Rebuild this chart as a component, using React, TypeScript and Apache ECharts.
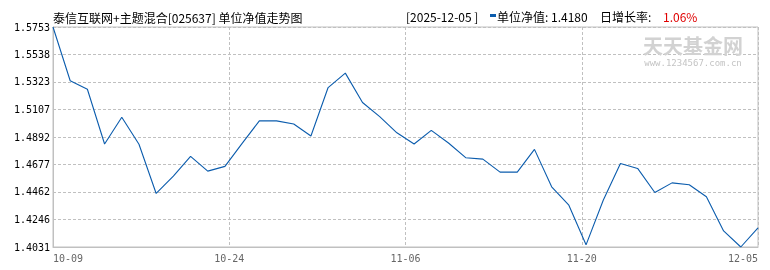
import React, { useEffect, useRef } from 'react';
import * as echarts from 'echarts';

const dates = [
  '2025-10-09', '2025-10-10', '2025-10-13', '2025-10-14', '2025-10-15', '2025-10-16', '2025-10-17',
  '2025-10-20', '2025-10-21', '2025-10-22', '2025-10-23', '2025-10-24', '2025-10-27', '2025-10-28',
  '2025-10-29', '2025-10-30', '2025-10-31', '2025-11-03', '2025-11-04', '2025-11-05', '2025-11-06',
  '2025-11-07', '2025-11-10', '2025-11-11', '2025-11-12', '2025-11-13', '2025-11-14', '2025-11-17',
  '2025-11-18', '2025-11-19', '2025-11-20', '2025-11-21', '2025-11-24', '2025-11-25', '2025-11-26',
  '2025-11-27', '2025-11-28', '2025-12-01', '2025-12-02', '2025-12-03', '2025-12-04', '2025-12-05',
];

const navValues = [
  1.5753, 1.5332, 1.5266, 1.4837, 1.5046, 1.4835, 1.4450,
  1.4586, 1.4740, 1.4625, 1.4662, 1.4842, 1.5018, 1.5018,
  1.4994, 1.4900, 1.5279, 1.5392, 1.5162, 1.5052, 1.4925,
  1.4837, 1.4944, 1.4845, 1.4730, 1.4719, 1.4617, 1.4617,
  1.4795, 1.4502, 1.4358, 1.4048, 1.4397, 1.4685, 1.4646,
  1.4458, 1.4533, 1.4518, 1.4424, 1.4157, 1.4031, 1.4180,
];

const xTickLabels = ['10-09', '10-24', '11-06', '11-20', '12-05'];
const yTickLabels = ['1.4031', '1.4246', '1.4462', '1.4677', '1.4892', '1.5107', '1.5323', '1.5538', '1.5753'];

const titleText = '泰信互联网+主题混合[025637] 单位净值走势图';
const latestDate = '[2025-12-05 ]';
const latestNav = '1.4180';
const latestGrowth = '1.06%';

const LINE_COLOR = '#0b5cad';
const GRID_COLOR = '#c0c0c0';
const CJK = '"Noto Sans CJK SC", sans-serif';
const MONO = '"DejaVu Sans Mono", monospace';

export default function App() {
  const ref = useRef<HTMLDivElement>(null);

  useEffect(() => {
    if (!ref.current) return;
    const chart = echarts.init(ref.current, null, { renderer: 'svg' });
    const yTicks = yTickLabels.map((s) => parseFloat(s));
    const yMin = Math.min(...yTicks);
    const yMax = Math.max(...yTicks);
    const xMax = dates.length - 1;
    const xInterval = xMax / (xTickLabels.length - 1);

    chart.setOption({
      animation: false,
      grid: {
        left: 53,
        right: 12,
        top: 27,
        bottom: 23,
        show: true,
        borderColor: GRID_COLOR,
        borderWidth: 1,
        backgroundColor: 'transparent',
      },
      xAxis: {
        type: 'value',
        min: 0,
        max: xMax,
        interval: xInterval,
        axisLine: { show: true, lineStyle: { color: GRID_COLOR } },
        axisTick: { show: false },
        splitLine: { show: true, lineStyle: { color: GRID_COLOR, type: [3, 2], width: 1 } },
        axisLabel: {
          color: '#666',
          fontFamily: MONO,
          fontSize: 10,
          margin: 6,
          alignMinLabel: 'left',
          alignMaxLabel: 'right',
          formatter: (v: number) => xTickLabels[Math.round(v / xInterval)] ?? '',
        },
      },
      yAxis: {
        type: 'value',
        min: yMin,
        max: yMax,
        axisLine: { show: true, lineStyle: { color: GRID_COLOR } },
        axisTick: { show: false, customValues: yTicks },
        splitLine: { show: true, lineStyle: { color: GRID_COLOR, type: [3, 2], width: 1 } },
        axisLabel: {
          customValues: yTicks,
          color: '#000',
          fontFamily: MONO,
          fontSize: 10,
          margin: 3,
          formatter: (v: number) => v.toFixed(4),
        },
      },
      series: [
        {
          type: 'line',
          data: dates.map((d, i) => [i, navValues[i]]),
          symbol: 'none',
          lineStyle: { color: LINE_COLOR, width: 1.1 },
          z: 5,
        },
      ],
      graphic: [
        {
          type: 'text',
          x: 693,
          y: 45,
          z: 1,
          style: {
            text: '天天基金网',
            font: `bold 20px ${CJK}`,
            fill: '#d2d2d2',
            align: 'center',
            verticalAlign: 'middle',
          },
        },
        {
          type: 'text',
          x: 693,
          y: 63,
          z: 1,
          style: {
            text: 'www.1234567.com.cn',
            font: `9px ${MONO}`,
            fill: '#c4c4c4',
            align: 'center',
            verticalAlign: 'middle',
          },
        },
        {
          type: 'text',
          x: 53,
          y: 17,
          style: { text: titleText, font: `12px ${CJK}`, fill: '#000', verticalAlign: 'middle' },
        },
        {
          type: 'text',
          x: 406,
          y: 16,
          style: { text: latestDate, font: `12px ${CJK}`, fill: '#000', verticalAlign: 'middle' },
        },
        {
          type: 'rect',
          shape: { x: 490, y: 14, width: 6, height: 3 },
          style: { fill: LINE_COLOR },
        },
        {
          type: 'text',
          x: 497,
          y: 16,
          style: { text: '单位净值: ' + latestNav, font: `12px ${CJK}`, fill: '#000', verticalAlign: 'middle' },
        },
        {
          type: 'text',
          x: 600,
          y: 16,
          style: { text: '日增长率:', font: `12px ${CJK}`, fill: '#000', verticalAlign: 'middle' },
        },
        {
          type: 'text',
          x: 663,
          y: 16,
          style: { text: latestGrowth, font: `12px ${CJK}`, fill: '#e00000', verticalAlign: 'middle' },
        },
      ],
    });

    return () => chart.dispose();
  }, []);

  return (
    <div
      ref={ref}
      style={{ position: 'fixed', left: 0, top: 0, width: 770, height: 270 }}
    />
  );
}
